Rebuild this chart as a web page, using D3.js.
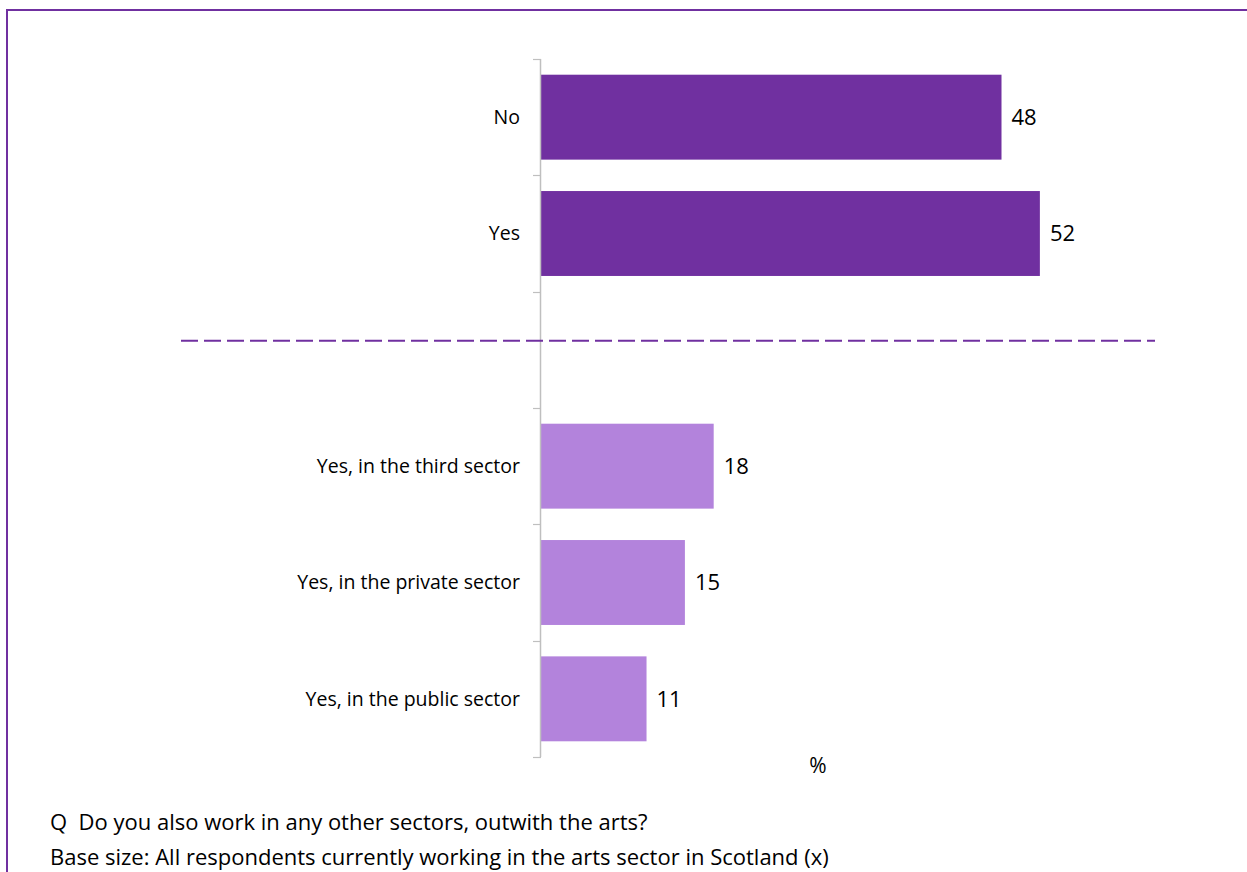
<!DOCTYPE html>
<html>
<head>
<meta charset="utf-8">
<script src="https://cdn.jsdelivr.net/npm/d3@7"></script>
<style>
  html, body { margin: 0; padding: 0; background: #fff; }
  svg { display: block; font-family: "Open Sans", Lato, sans-serif; }
</style>
</head>
<body>
<svg id="chart" width="1247" height="872"></svg>
<script>
const categories = ["No", "Yes", "", "Yes, in the third sector", "Yes, in the private sector", "Yes, in the public sector"];
const values = [48, 52, null, 18, 15, 11];
const groups = ["main", "main", "gap", "sub", "sub", "sub"];
const colors = { main: "#7030A0", sub: "#B383DC" };
const question = "Q  Do you also work in any other sectors, outwith the arts?";
const baseText = "Base size: All respondents currently working in the arts sector in Scotland (x)";
const unitLabel = "%";

const svg = d3.select("#chart");
const W = 1247, H = 872;

// frame (purple border, left and top visible)
svg.append("line").attr("x1", 7).attr("x2", W + 5).attr("y1", 10).attr("y2", 10)
  .attr("stroke", "#7030A0").attr("stroke-width", 2);
svg.append("line").attr("x1", 7).attr("x2", 7).attr("y1", 9).attr("y2", H + 5)
  .attr("stroke", "#7030A0").attr("stroke-width", 2);

const x = d3.scaleLinear().domain([0, 64]).range([541, 1155]);
const y = d3.scaleBand().domain(categories).range([59, 757]).paddingInner(0.27).paddingOuter(0.135);
const step = y.step();
const y0 = 59;

// bars
const data = categories.map((c, i) => ({ c, v: values[i], g: groups[i] })).filter(d => d.v != null);
svg.selectAll("rect.bar").data(data).enter().append("rect")
  .attr("class", "bar")
  .attr("x", x(0))
  .attr("y", d => y(d.c))
  .attr("width", d => x(d.v) - x(0))
  .attr("height", y.bandwidth())
  .attr("fill", d => colors[d.g]);

// axis line and ticks at band boundaries
svg.append("line").attr("x1", 540.5).attr("x2", 540.5).attr("y1", y0).attr("y2", y0 + step * categories.length)
  .attr("stroke", "#BFBFBF").attr("stroke-width", 1.5);
d3.range(categories.length + 1).forEach(i => {
  const ty = Math.round(y0 + i * step) + 0.5;
  svg.append("line").attr("x1", 533).attr("x2", 541).attr("y1", ty).attr("y2", ty)
    .attr("stroke", "#BFBFBF").attr("stroke-width", 1.2);
});

// category labels
svg.selectAll("text.cat").data(categories.filter(c => c !== "")).enter().append("text")
  .attr("class", "cat")
  .attr("x", 520)
  .attr("y", d => y(d) + y.bandwidth() / 2)
  .attr("dy", "0.35em")
  .attr("text-anchor", "end")
  .attr("font-size", 19.5)
  .attr("fill", "#000")
  .text(d => d);

// value labels
svg.selectAll("text.val").data(data).enter().append("text")
  .attr("class", "val")
  .attr("x", d => x(d.v) + 10)
  .attr("y", d => y(d.c) + y.bandwidth() / 2)
  .attr("dy", "0.35em")
  .attr("font-size", 22)
  .attr("fill", "#000")
  .text(d => d.v);

// dashed separator
const sepY = y("") + y.bandwidth() / 2 - 9;
svg.append("line").attr("x1", 181).attr("x2", 1155).attr("y1", sepY).attr("y2", sepY)
  .attr("stroke", "#7030A0").attr("stroke-width", 2).attr("stroke-dasharray", "17,6");

// unit label
svg.append("text").attr("x", 818).attr("y", 766).attr("dy", "0.35em").attr("text-anchor", "middle")
  .attr("font-size", 21).text(unitLabel);

// footer
svg.append("text").attr("x", 50).attr("y", 822).attr("dy", "0.35em").attr("font-size", 22).text(question).style("white-space", "pre");
svg.append("text").attr("x", 50).attr("y", 857).attr("dy", "0.35em").attr("font-size", 22).text(baseText);
</script>
</body>
</html>
